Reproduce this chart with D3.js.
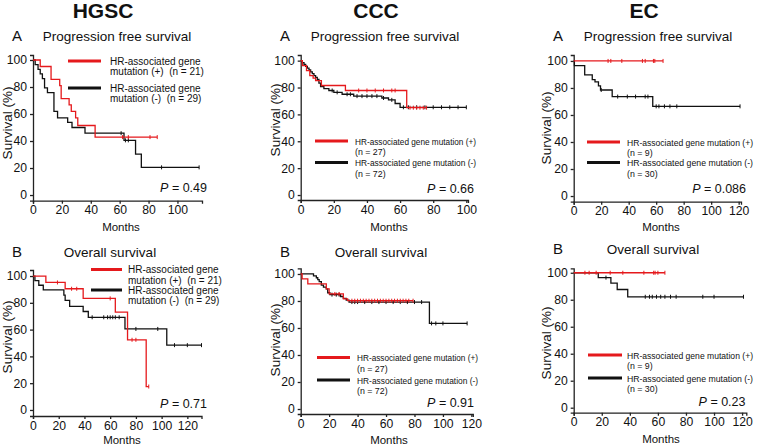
<!DOCTYPE html>
<html><head><meta charset="utf-8">
<script src="https://cdn.jsdelivr.net/npm/d3@7"></script>
<style>
body{margin:0;background:#fff}
text{font-family:"Liberation Sans",Arial,sans-serif;white-space:pre;fill:#111}
</style>
</head><body><svg id="c" width="759" height="446"></svg>
<script>
// ---------------- data ----------------
const groups = ["HGSC", "CCC", "EC"];
const panelLetters = ["A", "B"];
const endpoints = ["Progression free survival", "Overall survival"];
const yTickValues = [0, 20, 40, 60, 80, 100];
const xTicksPFS_HGSC = [0, 20, 40, 60, 80, 100];
const xTicksPFS_CCC = [0, 20, 40, 60, 80, 100];
const xTicksPFS_EC = [0, 20, 40, 60, 80, 100, 120];
const xTicksOS = [0, 20, 40, 60, 80, 100, 120];
const pValues = ["0.49", "0.66", "0.086", "0.71", "0.91", "0.23"];
const nPos = [21, 27, 9];
const nNeg = [29, 72, 30];

// HGSC PFS
const hgscPfsPosT = [0, 5, 12.5, 18.5, 19.5, 25, 26.5, 29.5, 31, 43];
const hgscPfsPosS = [100, 95.2, 85.7, 81, 71.4, 66.7, 61.9, 57.1, 51.5, 42.9];
const hgscPfsPosEnd = 86;
const hgscPfsPosCens = [62, 66, 81, 86];
const hgscPfsNegT = [0, 1.5, 3.5, 5, 6.5, 8, 10, 14.5, 17, 24, 27, 36, 63, 71, 75];
const hgscPfsNegS = [100, 96.6, 93.1, 89.7, 86.2, 79.3, 75.9, 61.9, 57.2, 53.8, 50, 45.8, 40.5, 30.3, 20.5];
const hgscPfsNegEnd = 115;
const hgscPfsNegCens = [61, 64, 66, 89, 115];

// CCC PFS
const cccPfsPosT = [0, 1, 3.5, 5.5, 7.5, 9, 12.5, 27, 64];
const cccPfsPosS = [100, 96.3, 92.6, 88.9, 87, 85.2, 81.5, 77.8, 65];
const cccPfsPosEnd = 76;
const cccPfsPosCens = [35, 40, 45, 50, 55, 57, 66, 68, 70, 72, 74, 76];
const cccPfsNegT = [0, 1, 2, 3, 4, 5, 6, 7, 8, 9, 10, 11, 12, 14, 17, 20, 25, 32, 49, 53, 57, 60];
const cccPfsNegS = [100, 98.6, 97.2, 95.8, 94.4, 93.1, 91.7, 90.3, 88.9, 87.5, 86.1, 83.3, 80.6, 79.2, 77.8, 76.4, 75, 73.6, 72.2, 70.8, 68.1, 65.3];
const cccPfsNegEnd = 100;
const cccPfsNegCens = [19, 22, 28, 30, 34, 37, 40, 43, 46, 50, 55, 62, 65, 70, 75, 80, 85, 90, 95, 100];

// EC PFS
const ecPfsPosT = [0];
const ecPfsPosS = [100];
const ecPfsPosEnd = 65;
const ecPfsPosCens = [25, 27, 35, 50, 52, 58, 59, 65];
const ecPfsNegT = [0, 0.5, 8, 13.5, 15.5, 18, 19.5, 28, 57.5];
const ecPfsNegS = [100, 96.6, 89.7, 86.2, 84.5, 81.5, 78.5, 73.6, 66.4];
const ecPfsNegEnd = 121;
const ecPfsNegCens = [20, 32, 39, 45, 52, 54, 60, 62, 66, 70, 75, 121];

// HGSC OS
const hgscOsPosT = [0, 10, 25, 39, 64, 73.5, 88];
const hgscOsPosS = [100, 95.2, 90.5, 83.3, 73, 52.4, 17.5];
const hgscOsPosEnd = 90;
const hgscOsPosCens = [19, 30, 34, 60, 77, 80, 90];
const hgscOsNegT = [0, 1.5, 4.5, 8, 24, 25, 28.5, 39, 43, 71.5, 104];
const hgscOsNegS = [100, 96.6, 93.1, 89.7, 85.8, 81.8, 77.3, 73.5, 69.2, 60.5, 48.4];
const hgscOsNegEnd = 131;
const hgscOsNegCens = [46, 55, 58, 60, 62, 64, 67, 80, 97, 110, 120, 131];

// CCC OS
const cccOsPosT = [0, 1, 5, 18, 20, 30, 33];
const cccOsPosS = [100, 96.3, 92.6, 88.9, 85.2, 81.5, 80.2];
const cccOsPosEnd = 79;
const cccOsPosCens = [24, 27, 36, 38, 40, 42, 44, 46, 48, 50, 52, 54, 56, 58, 60, 62, 64, 66, 68, 70, 72, 74, 76, 79];
const cccOsNegT = [0, 9, 11, 12, 13, 14.5, 16, 18, 19, 20.5, 28, 30, 32, 34, 90.5];
const cccOsNegS = [100, 98.6, 97.2, 95.8, 94.4, 91.7, 90.3, 88.9, 86.1, 84.7, 83.3, 81.9, 80.6, 79.2, 63.4];
const cccOsNegEnd = 117;
const cccOsNegCens = [22, 25, 27, 36, 38, 40, 45, 50, 55, 60, 65, 70, 75, 80, 85, 92, 95, 100, 117];

// EC OS
const ecOsPosT = [0];
const ecOsPosS = [100];
const ecOsPosEnd = 65;
const ecOsPosCens = [8, 11, 16, 26, 35, 50, 57, 58, 60, 65];
const ecOsNegT = [0, 17.5, 26.5, 31, 38.5];
const ecOsNegS = [100, 96.4, 92.3, 87.6, 82.2];
const ecOsNegEnd = 121;
const ecOsNegCens = [23, 51, 54, 56, 59, 62, 65, 69, 73, 92, 100, 121];

// ---------------- layout ----------------
const RED = "#e5191c", BLK = "#111";
const panels = [
  {g:0, row:0, xTicks:xTicksPFS_HGSC, xMax:117, left:33, right:202, bottom:200.7, top:55, yMin:-4.2, yMax:103.7,
   pos:[hgscPfsPosT,hgscPfsPosS,hgscPfsPosEnd,hgscPfsPosCens], neg:[hgscPfsNegT,hgscPfsNegS,hgscPfsNegEnd,hgscPfsNegCens],
   leg:{x1:68,x2:101,tx:110,y1:61,y2:88,style:"hgsc"}, p:{x:207,y:192}, ylab:{x:11.5,y:123}, letter:{x:12,y:41}, sub:{x:117,y:41}, months:{x:121,y:230.5}},
  {g:1, row:0, xTicks:xTicksPFS_CCC, xMax:101, left:300.7, right:468, bottom:200, top:55, yMin:-3.7, yMax:104.2,
   pos:[cccPfsPosT,cccPfsPosS,cccPfsPosEnd,cccPfsPosCens], neg:[cccPfsNegT,cccPfsNegS,cccPfsNegEnd,cccPfsNegCens],
   leg:{x1:315,x2:348,tx:355,y1:141,y2:162.5,style:"wide",w:121}, p:{x:474,y:193}, ylab:{x:280,y:120}, letter:{x:280,y:41}, sub:{x:385,y:41}, months:{x:389,y:230.5}},
  {g:2, row:0, xTicks:xTicksPFS_EC, xMax:121.7, left:573.7, right:741, bottom:201.7, top:55, yMin:-4.2, yMax:104.4,
   pos:[ecPfsPosT,ecPfsPosS,ecPfsPosEnd,ecPfsPosCens], neg:[ecPfsNegT,ecPfsNegS,ecPfsNegEnd,ecPfsNegCens],
   leg:{x1:587,x2:620,tx:627,y1:142,y2:162.5,style:"wide",w:126}, p:{x:746,y:193}, ylab:{x:551,y:128}, letter:{x:553,y:41}, sub:{x:658,y:41}, months:{x:661,y:230.5}},
  {g:0, row:1, xTicks:xTicksOS, xMax:131, left:33, right:201.5, bottom:416, top:270, yMin:-4.5, yMax:104.5,
   pos:[hgscOsPosT,hgscOsPosS,hgscOsPosEnd,hgscOsPosCens], neg:[hgscOsNegT,hgscOsNegS,hgscOsNegEnd,hgscOsNegCens],
   leg:{x1:91,x2:122,tx:128,y1:269.5,y2:290,style:"hgsc"}, p:{x:207,y:407.5}, ylab:{x:11.5,y:337}, letter:{x:12,y:256.5}, sub:{x:110,y:256.5}, months:{x:122,y:443.5}},
  {g:1, row:1, xTicks:xTicksOS, xMax:121, left:300.7, right:472.8, bottom:414, top:268.3, yMin:-3.7, yMax:104.2,
   pos:[cccOsPosT,cccOsPosS,cccOsPosEnd,cccOsPosCens], neg:[cccOsNegT,cccOsNegS,cccOsNegEnd,cccOsNegCens],
   leg:{x1:317,x2:350,tx:357,y1:357.5,y2:380,style:"wide",w:121}, p:{x:474,y:407}, ylab:{x:280,y:340}, letter:{x:280,y:256.5}, sub:{x:381,y:256.5}, months:{x:389,y:443.5}},
  {g:2, row:1, xTicks:xTicksOS, xMax:123, left:573.7, right:746.3, bottom:412.7, top:268.3, yMin:-3.7, yMax:103.3,
   pos:[ecOsPosT,ecOsPosS,ecOsPosEnd,ecOsPosCens], neg:[ecOsNegT,ecOsNegS,ecOsNegEnd,ecOsNegCens],
   leg:{x1:588,x2:622,tx:627,y1:355,y2:378,style:"wide",w:126}, p:{x:745.5,y:406}, ylab:{x:551,y:343}, letter:{x:553,y:254}, sub:{x:653,y:254}, months:{x:661,y:442.5}}
];
const titlePos = [{x:103,y:18},{x:376,y:18},{x:644,y:18}];

const svg = d3.select("#c");

groups.forEach((name,i)=>{
  svg.append("text").attr("x",titlePos[i].x).attr("y",titlePos[i].y).attr("text-anchor","middle")
    .attr("font-size",21).attr("font-weight","bold").text(name);
});

function survAt(T,S,t){ let s=S[0]; for(let i=0;i<T.length;i++){ if(T[i]<=t) s=S[i]; } return s; }

panels.forEach((p,pi)=>{
  const x = d3.scaleLinear().domain([0,p.xMax]).range([p.left,p.right]);
  const y = d3.scaleLinear().domain([p.yMin,p.yMax]).range([p.bottom,p.top]);
  const g = svg.append("g");

  const ax = g.append("g").attr("transform",`translate(0,${p.bottom})`)
    .call(d3.axisBottom(x).tickValues(p.xTicks).tickSizeOuter(0).tickSize(3).tickPadding(2));
  const ay = g.append("g").attr("transform",`translate(${p.left},0)`)
    .call(d3.axisLeft(y).tickValues(yTickValues).tickSizeOuter(0).tickSize(3).tickPadding(3));
  [ax,ay].forEach(a=>{
    a.selectAll("path,line").attr("stroke","#222").attr("stroke-width",1.3);
    a.selectAll("text").attr("font-size",12.2).attr("font-family","'Liberation Sans',Arial,sans-serif").attr("fill","#111");
  });

  const line = d3.line().x(d=>x(d[0])).y(d=>y(d[1])).curve(d3.curveStepAfter);
  [[p.neg,BLK],[p.pos,RED]].forEach(([c,col])=>{
    const [T,S,end,cens]=c;
    const pts = T.map((t,i)=>[t,S[i]]); pts.push([end,S[S.length-1]]);
    g.append("path").datum(pts).attr("d",line).attr("fill","none").attr("stroke",col).attr("stroke-width",1.3);
    g.selectAll(null).data(cens).enter().append("line")
      .attr("x1",d=>x(d)).attr("x2",d=>x(d))
      .attr("y1",d=>y(survAt(T,S,d))-2).attr("y2",d=>y(survAt(T,S,d))+2)
      .attr("stroke",col).attr("stroke-width",1);
  });

  // legend
  const L = p.leg;
  const n1 = nPos[p.g], n2 = nNeg[p.g];
  g.append("line").attr("x1",L.x1).attr("x2",L.x2).attr("y1",L.y1).attr("y2",L.y1).attr("stroke",RED).attr("stroke-width",3);
  g.append("line").attr("x1",L.x1).attr("x2",L.x2).attr("y1",L.y2).attr("y2",L.y2).attr("stroke",BLK).attr("stroke-width",3);
  const hg = L.style==="hgsc";
  const lines1 = hg ? ["HR-associated gene",`mutation (+)  (n = ${n1})`] : ["HR-associated gene mutation (+)",`(n = ${n1})`];
  const lines2 = hg ? ["HR-associated gene",`mutation (-)  (n = ${n2})`] : ["HR-associated gene mutation (-)",`(n = ${n2})`];
  [[lines1,L.y1],[lines2,L.y2]].forEach(([ls,yy])=>{
    ls.forEach((s,k)=>{
      const t = g.append("text").attr("x",L.tx).attr("y",yy+3.5+k*10.5).attr("font-size",hg?10:8.8).text(s);
      if(!hg && k===0){ t.attr("textLength",L.w).attr("lengthAdjust","spacingAndGlyphs"); }
    });
  });

  // P value
  const pt = g.append("text").attr("x",p.p.x).attr("y",p.p.y).attr("text-anchor","end").attr("font-size",12.5);
  pt.append("tspan").attr("font-style","italic").text("P");
  pt.append("tspan").text(" = "+pValues[pi]);

  // labels
  g.append("text").attr("transform",`translate(${p.ylab.x},${p.ylab.y}) rotate(-90)`).attr("text-anchor","middle")
    .attr("font-size",13.5).text("Survival (%)");
  g.append("text").attr("x",p.letter.x).attr("y",p.letter.y).attr("font-size",15).text(panelLetters[p.row]);
  g.append("text").attr("x",p.sub.x).attr("y",p.sub.y).attr("text-anchor","middle").attr("font-size",13.5).text(endpoints[p.row]);
  g.append("text").attr("x",p.months.x).attr("y",p.months.y).attr("text-anchor","middle").attr("font-size",11.5).text("Months");
});
</script>
</body></html>
